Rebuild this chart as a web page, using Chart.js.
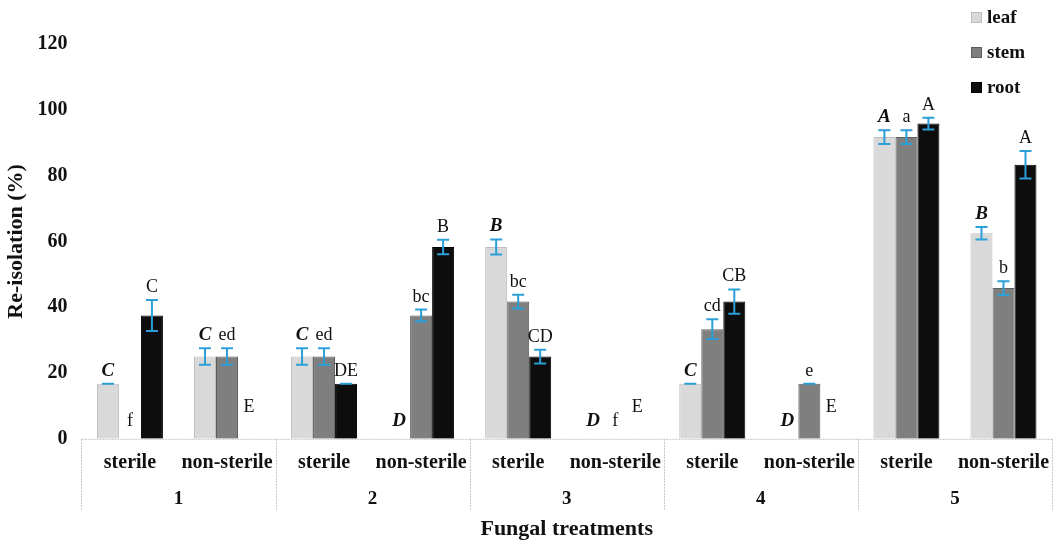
<!DOCTYPE html>
<html lang="en">
<head>
    <meta charset="UTF-8">
    <title>Re-isolation</title>
    <script src="https://cdn.jsdelivr.net/npm/chart.js"></script>
    <style>
        body { margin: 0; background: #fff; }
        #wrap { width: 1055px; height: 545px; }
    </style>
</head>
<body>
    <div id="wrap"><canvas id="chart"></canvas></div>

<script>
// ---------------- data ----------------
const conditions = ['sterile', 'non-sterile', 'sterile', 'non-sterile', 'sterile', 'non-sterile', 'sterile', 'non-sterile', 'sterile', 'non-sterile'];
const treatments = ['1', '2', '3', '4', '5'];

const leaf = [16.7, 25, 25, 0, 58.3, 0, 16.7, 0, 91.7, 62.5];
const stem = [0, 25, 25, 37.5, 41.7, 0, 33.3, 16.7, 91.7, 45.8];
const root = [37.5, 0, 16.7, 58.3, 25, 0, 41.7, 0, 95.8, 83.3];

const leafErr = [0, 2.5, 2.5, 0, 2.3, 0, 0, 0, 2.1, 1.9];
const stemErr = [0, 2.5, 2.5, 1.8, 2.1, 0, 3, 0, 2.1, 2.1];
const rootErr = [4.7, 0, 0, 2.2, 2.1, 0, 3.7, 0, 1.8, 4.2];

const leafLetters = ['C', 'C', 'C', 'D', 'B', 'D', 'C', 'D', 'A', 'B'];
const stemLetters = ['f', 'ed', 'ed', 'bc', 'bc', 'f', 'cd', 'e', 'a', 'b'];
const rootLetters = ['C', 'E', 'DE', 'B', 'CD', 'E', 'CB', 'E', 'A', 'A'];

const serif = "'Liberation Serif', 'Times New Roman', serif";
const errColor = '#2b9fd8';

// error bars, letters, legend and table lines
const extras = {
    id: 'extras',
    afterDatasetsDraw(chart) {
        const ctx = chart.ctx;
        const y = chart.scales.y;
        const errs = [leafErr, stemErr, rootErr];
        const letters = [leafLetters, stemLetters, rootLetters];
        ctx.save();
        chart.data.datasets.forEach((ds, di) => {
            const meta = chart.getDatasetMeta(di);
            meta.data.forEach((bar, i) => {
                const v = ds.data[i];
                const e = errs[di][i];
                let top = y.getPixelForValue(v + e);
                if (v > 0) {
                    const bot = y.getPixelForValue(v - e);
                    ctx.strokeStyle = errColor;
                    ctx.lineWidth = 2;
                    ctx.beginPath();
                    ctx.moveTo(bar.x, top); ctx.lineTo(bar.x, bot);
                    ctx.moveTo(bar.x - 6, top); ctx.lineTo(bar.x + 6, top);
                    ctx.moveTo(bar.x - 6, bot); ctx.lineTo(bar.x + 6, bot);
                    ctx.stroke();
                }
                // letter
                let ly;
                if (v > 0) ly = top - 8;
                else ly = y.getPixelForValue(0) - (di === 2 ? 27 : 13);
                ctx.fillStyle = '#111';
                ctx.textAlign = 'center';
                ctx.textBaseline = 'alphabetic';
                ctx.font = di === 0 ? 'italic bold 19px ' + serif : '18px ' + serif;
                ctx.fillText(letters[di][i], bar.x, ly);
            });
        });
        ctx.restore();
    },
    afterDraw(chart) {
        const ctx = chart.ctx;
        const a = chart.chartArea;
        ctx.save();
        // table lines under the plot
        ctx.strokeStyle = '#c4c4c4';
        ctx.lineWidth = 1;
        ctx.setLineDash([2, 1]);
        ctx.beginPath();
        ctx.moveTo(a.left, a.bottom + 0.5);
        ctx.lineTo(a.right, a.bottom + 0.5);
        const w = (a.right - a.left) / treatments.length;
        for (let i = 0; i <= treatments.length; i++) {
            const x = Math.round(a.left + i * w) + 0.5;
            ctx.moveTo(x, a.bottom);
            ctx.lineTo(x, a.bottom + 71);
        }
        ctx.stroke();
        ctx.setLineDash([]);
        // legend
        const items = chart.data.datasets;
        items.forEach((ds, i) => {
            const ly = 17 + i * 35;
            ctx.fillStyle = ds.backgroundColor;
            ctx.strokeStyle = ds.borderColor;
            ctx.fillRect(971, ly - 5, 11, 11);
            ctx.strokeRect(971.5, ly - 4.5, 10, 10);
            ctx.fillStyle = '#111';
            ctx.font = 'bold 19px ' + serif;
            ctx.textAlign = 'left';
            ctx.textBaseline = 'middle';
            ctx.fillText(ds.label, 987, ly + 1);
        });
        ctx.restore();
    }
};

new Chart(document.getElementById('chart'), {
    type: 'bar',
    data: {
        labels: conditions,
        datasets: [
            { label: 'leaf', data: leaf, backgroundColor: '#d9d9d9', borderColor: '#bdbdbd', borderWidth: 1 },
            { label: 'stem', data: stem, backgroundColor: '#7f7f7f', borderColor: '#5e5e5e', borderWidth: 1 },
            { label: 'root', data: root, backgroundColor: '#0d0d0d', borderColor: '#000000', borderWidth: 1 }
        ]
    },
    options: {
        responsive: true,
        maintainAspectRatio: false,
        animation: false,
        layout: { autoPadding: false, padding: { left: 3, right: 3, top: 44, bottom: 2 } },
        datasets: { bar: { categoryPercentage: 0.68, barPercentage: 1.0 } },
        plugins: {
            legend: { display: false },
            tooltip: { enabled: false }
        },
        scales: {
            y: {
                min: 0, max: 120,
                ticks: { stepSize: 20, color: '#111', padding: 14, font: { family: serif, size: 20, weight: 'bold' } },
                grid: { display: false, drawTicks: false },
                border: { display: false },
                title: { display: true, text: 'Re-isolation (%)', color: '#111', padding: { top: 0, bottom: -6 }, font: { family: serif, size: 22, weight: 'bold' } }
            },
            x: {
                weight: 0,
                afterFit(s) { s.paddingLeft = 0; s.paddingRight = 0; },
                ticks: { color: '#111', padding: 12, maxRotation: 0, autoSkip: false, font: { family: serif, size: 20, weight: 'bold' } },
                grid: { display: false, drawTicks: false },
                border: { display: false }
            },
            x2: {
                type: 'category',
                position: 'bottom',
                weight: 1,
                labels: treatments,
                afterFit(s) { s.paddingLeft = 0; s.paddingRight = 0; },
                ticks: { color: '#111', padding: 1, font: { family: serif, size: 19, weight: 'bold' } },
                grid: { display: false, drawTicks: false },
                border: { display: false },
                title: { display: true, text: 'Fungal treatments', color: '#111', padding: { top: 5, bottom: 0 }, font: { family: serif, size: 22, weight: 'bold' } }
            }
        }
    },
    plugins: [extras]
});
</script>
</body>
</html>
